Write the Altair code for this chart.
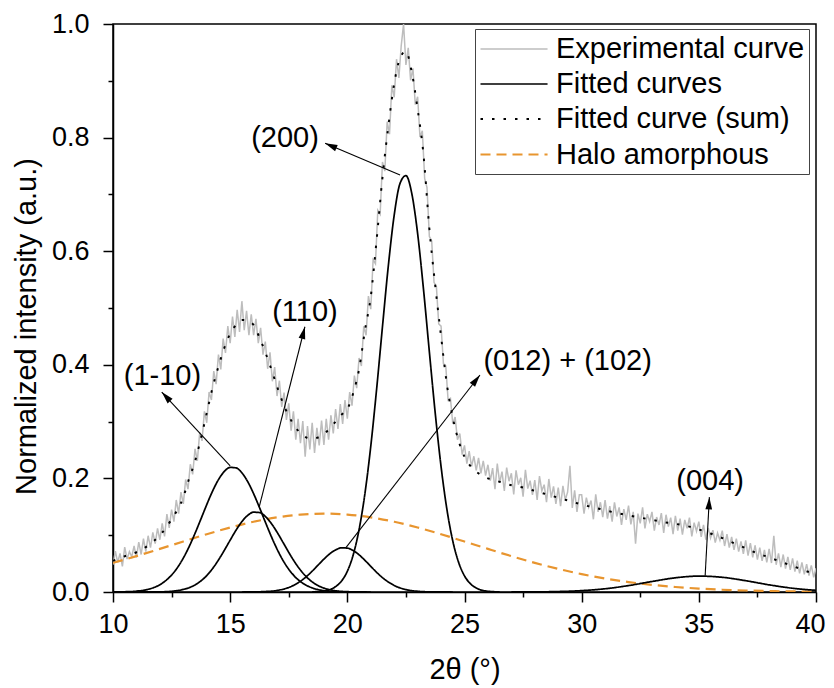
import math
import altair as alt
import pandas as pd

# ---------------- data ----------------
# Experimental curve: 2θ = 10.0 ... 40.0, step 0.1
exp_start = 10.0
exp_step = 0.1
exp_y = [
    0.048, 0.072, 0.052, 0.068, 0.045, 0.079, 0.058, 0.071, 0.062, 0.081,
    0.061, 0.088, 0.066, 0.094, 0.071, 0.099, 0.078, 0.105, 0.085, 0.112,
    0.092, 0.121, 0.098, 0.137, 0.113, 0.145, 0.124, 0.162, 0.138, 0.176,
    0.155, 0.198, 0.181, 0.225, 0.207, 0.252, 0.231, 0.281, 0.266, 0.318,
    0.298, 0.352, 0.338, 0.389, 0.366, 0.418, 0.392, 0.446, 0.421, 0.468,
    0.438, 0.485, 0.449, 0.497, 0.458, 0.512, 0.461, 0.495, 0.452, 0.489,
    0.452, 0.481, 0.438, 0.465, 0.418, 0.441, 0.393, 0.422, 0.371, 0.396,
    0.345, 0.372, 0.326, 0.351, 0.303, 0.332, 0.284, 0.318, 0.268, 0.305,
    0.262, 0.301, 0.238, 0.292, 0.251, 0.298, 0.245, 0.289, 0.258, 0.302,
    0.259, 0.305, 0.268, 0.311, 0.279, 0.322, 0.287, 0.331, 0.296, 0.338,
    0.305, 0.352, 0.328, 0.381, 0.359, 0.412, 0.398, 0.468, 0.452, 0.521,
    0.498, 0.585, 0.578, 0.672, 0.665, 0.757, 0.741, 0.828, 0.806, 0.892,
    0.871, 0.938, 0.905, 0.962, 1.000, 0.928, 0.958, 0.901, 0.922, 0.858,
    0.872, 0.801, 0.812, 0.728, 0.712, 0.626, 0.618, 0.545, 0.538, 0.472,
    0.468, 0.402, 0.398, 0.338, 0.341, 0.296, 0.308, 0.268, 0.279, 0.242,
    0.258, 0.226, 0.248, 0.221, 0.239, 0.214, 0.236, 0.209, 0.231, 0.205,
    0.224, 0.196, 0.218, 0.181, 0.226, 0.192, 0.212, 0.178, 0.219, 0.195,
    0.209, 0.172, 0.214, 0.189, 0.201, 0.168, 0.215, 0.182, 0.196, 0.171,
    0.197, 0.162, 0.204, 0.178, 0.189, 0.158, 0.199, 0.166, 0.186, 0.155,
    0.184, 0.151, 0.187, 0.162, 0.176, 0.222, 0.148, 0.179, 0.141, 0.171,
    0.171, 0.138, 0.166, 0.149, 0.161, 0.128, 0.172, 0.141, 0.158, 0.132,
    0.162, 0.129, 0.151, 0.124, 0.158, 0.133, 0.149, 0.118, 0.146, 0.127,
    0.152, 0.119, 0.141, 0.085, 0.138, 0.121, 0.149, 0.112, 0.137, 0.124,
    0.141, 0.108, 0.132, 0.118, 0.139, 0.104, 0.136, 0.115, 0.131, 0.102,
    0.134, 0.108, 0.129, 0.101, 0.127, 0.112, 0.131, 0.098, 0.122, 0.107,
    0.124, 0.097, 0.118, 0.092, 0.113, 0.095, 0.109, 0.087, 0.104, 0.091,
    0.108, 0.081, 0.102, 0.078, 0.097, 0.074, 0.094, 0.071, 0.089, 0.067,
    0.091, 0.064, 0.086, 0.061, 0.082, 0.057, 0.078, 0.055, 0.074, 0.052,
    0.076, 0.051, 0.099, 0.048, 0.068, 0.044, 0.066, 0.041, 0.062, 0.039,
    0.059, 0.036, 0.055, 0.033, 0.052, 0.031, 0.049, 0.029, 0.047, 0.026,
    0.042,
]
exp_x = [round(exp_start + exp_step * i, 2) for i in range(len(exp_y))]

# Fitted curve (sum), dotted
sum_x = [10.0, 10.5, 11.0, 11.5, 12.0, 12.5, 13.0, 13.25, 13.5, 13.75,
         14.0, 14.25, 14.5, 14.75, 15.0, 15.25, 15.5, 15.75, 16.0, 16.25,
         16.5, 16.75, 17.0, 17.25, 17.5, 17.75, 18.0, 18.25, 18.5, 18.75,
         19.0, 19.25, 19.5, 19.75, 20.0, 20.25, 20.5, 20.75, 21.0, 21.25,
         21.5, 21.75, 22.0, 22.25, 22.5, 22.75, 23.0, 23.25, 23.5, 23.75,
         24.0, 24.25, 24.5, 24.75, 25.0, 25.25, 25.5, 25.75, 26.0, 26.5,
         27.0, 27.5, 28.0, 28.5, 29.0, 29.5, 30.0, 30.5, 31.0, 31.5,
         32.0, 32.5, 33.0, 33.5, 34.0, 34.5, 35.0, 35.5, 36.0, 36.5,
         37.0, 37.5, 38.0, 38.5, 39.0, 39.5, 40.0]
sum_y = [0.055, 0.063, 0.070, 0.082, 0.100, 0.128, 0.167, 0.200, 0.230, 0.270,
         0.315, 0.360, 0.397, 0.430, 0.455, 0.470, 0.479, 0.478, 0.470, 0.448,
         0.422, 0.393, 0.362, 0.333, 0.310, 0.292, 0.280, 0.272, 0.270, 0.272,
         0.278, 0.288, 0.300, 0.312, 0.322, 0.350, 0.392, 0.460, 0.520, 0.620,
         0.730, 0.820, 0.895, 0.940, 0.952, 0.915, 0.850, 0.770, 0.640, 0.540,
         0.450, 0.365, 0.307, 0.266, 0.238, 0.222, 0.212, 0.205, 0.200, 0.194,
         0.188, 0.184, 0.178, 0.172, 0.166, 0.160, 0.154, 0.149, 0.144, 0.139,
         0.135, 0.131, 0.127, 0.123, 0.120, 0.116, 0.110, 0.103, 0.095, 0.086,
         0.077, 0.068, 0.061, 0.053, 0.046, 0.038, 0.031]

# Fitted peaks (solid black)
p110m_x = [10.0, 10.5, 11.0, 11.5, 12.0, 12.25, 12.5, 12.75, 13.0, 13.25, 13.5,
           13.75, 14.0, 14.25, 14.5, 14.75, 15.0, 15.25, 15.5, 15.75, 16.0,
           16.25, 16.5, 16.75, 17.0, 17.25, 17.5, 17.75, 18.0, 18.5, 19.0, 19.5, 20.0]
p110m_y = [0.0001, 0.0004, 0.0015, 0.0048, 0.0128, 0.0200, 0.0298, 0.0430, 0.0597,
           0.0799, 0.1032, 0.1283, 0.1538, 0.1777, 0.1978, 0.2122, 0.2193, 0.2185,
           0.2098, 0.1942, 0.1731, 0.1488, 0.1232, 0.0983, 0.0756, 0.0560, 0.0400,
           0.0275, 0.0183, 0.0072, 0.0024, 0.0007, 0.0002]

p110_x = [11.0, 11.5, 12.0, 12.5, 13.0, 13.25, 13.5, 13.75, 14.0, 14.25, 14.5,
          14.75, 15.0, 15.25, 15.5, 15.75, 16.0, 16.25, 16.5, 16.75, 17.0, 17.25,
          17.5, 17.75, 18.0, 18.25, 18.5, 18.75, 19.0, 19.5, 20.0, 20.5, 21.0]
p110_y = [0.0000, 0.0001, 0.0003, 0.0013, 0.0045, 0.0076, 0.0125, 0.0194, 0.0289,
          0.0413, 0.0563, 0.0733, 0.0913, 0.1088, 0.1239, 0.1349, 0.1405, 0.1399,
          0.1331, 0.1211, 0.1054, 0.0877, 0.0698, 0.0530, 0.0386, 0.0268, 0.0178,
          0.0113, 0.0069, 0.0022, 0.0006, 0.0001, 0.0000]

p012_x = [15.5, 16.0, 16.5, 17.0, 17.5, 17.75, 18.0, 18.25, 18.5, 18.75, 19.0,
          19.25, 19.5, 19.75, 20.0, 20.25, 20.5, 20.75, 21.0, 21.25, 21.5, 21.75,
          22.0, 22.5, 23.0, 23.5, 24.0, 24.5]
p012_y = [0.0000, 0.0002, 0.0008, 0.0027, 0.0080, 0.0126, 0.0190, 0.0271, 0.0367,
          0.0473, 0.0579, 0.0672, 0.0741, 0.0777, 0.0773, 0.0730, 0.0655, 0.0558,
          0.0452, 0.0347, 0.0253, 0.0176, 0.0115, 0.0043, 0.0013, 0.0003, 0.0001,
          0.0000]

p200_x = [18.5, 19.0, 19.5, 19.75, 20.0, 20.25, 20.5, 20.75, 21.0, 21.25, 21.5,
          21.75, 22.0, 22.25, 22.5, 22.75, 23.0, 23.25, 23.5, 23.75, 24.0, 24.25,
          24.5, 24.75, 25.0, 25.25, 25.5, 26.0, 26.5]
p200_y = [0.0003, 0.0019, 0.0095, 0.0192, 0.0365, 0.0653, 0.1097, 0.1730, 0.2566,
          0.3573, 0.4675, 0.5745, 0.6635, 0.7195, 0.7331, 0.7017, 0.6309, 0.5330,
          0.4230, 0.3153, 0.2208, 0.1453, 0.0898, 0.0521, 0.0284, 0.0146, 0.0070,
          0.0013, 0.0002]

p004_x = [27, 28, 29, 30, 31, 32, 33, 34, 35, 36, 37, 38, 39, 40]
p004_y = [0.0001, 0.0002, 0.0008, 0.0024, 0.0057, 0.0113, 0.0185, 0.0250, 0.0280,
          0.0259, 0.0199, 0.0126, 0.0066, 0.0029]

# Halo amorphous (orange dashed)
halo_x = list(range(10, 41))
halo_y = [0.0513, 0.0632, 0.0759, 0.0889, 0.1017, 0.1135, 0.1237, 0.1314, 0.1363,
          0.1380, 0.1363, 0.1314, 0.1237, 0.1135, 0.1017, 0.0889, 0.0759, 0.0632,
          0.0513, 0.0407, 0.0315, 0.0238, 0.0175, 0.0126, 0.0088, 0.0061, 0.0040,
          0.0026, 0.0017, 0.0010, 0.0006]

# Annotations: label text, label centre, arrow base (on curve) and arrow tip
ann_labels = ["(1-10)", "(110)", "(200)", "(012) + (102)", "(004)"]
ann_lx = [12.11, 18.19, 17.34, 29.40, 35.48]
ann_ly = [0.381, 0.493, 0.800, 0.406, 0.196]
arr_bx = [15.00, 16.24, 22.25, 19.94, 35.27]
arr_by = [0.222, 0.150, 0.734, 0.078, 0.029]
arr_tx = [12.08, 18.19, 19.05, 25.66, 35.45]
arr_ty = [0.352, 0.467, 0.790, 0.382, 0.167]

series_order = ["Experimental curve", "Fitted curves", "Fitted curve (sum)", "Halo amorphous"]

# ---------------- build tables ----------------
rows = []
for x, y in zip(exp_x, exp_y):
    rows.append({"x": x, "y": y, "series": series_order[0], "grp": "exp"})
for name, xs, ys in [("p1", p110m_x, p110m_y), ("p2", p110_x, p110_y),
                     ("p3", p012_x, p012_y), ("p4", p200_x, p200_y),
                     ("p5", p004_x, p004_y)]:
    for x, y in zip(xs, ys):
        rows.append({"x": x, "y": y, "series": series_order[1], "grp": name})
for x, y in zip(sum_x, sum_y):
    rows.append({"x": x, "y": y, "series": series_order[2], "grp": "sum"})
for x, y in zip(halo_x, halo_y):
    rows.append({"x": x, "y": y, "series": series_order[3], "grp": "halo"})
df = pd.DataFrame(rows)

W, H = 703, 568
X_MIN, X_MAX, Y_MIN, Y_MAX = 10, 40, 0, 1
px_x = W / (X_MAX - X_MIN)
px_y = H / (Y_MAX - Y_MIN)

arr = pd.DataFrame({"x": arr_bx, "y": arr_by, "x2": arr_tx, "y2": arr_ty})
heads = pd.DataFrame({
    "x": arr_tx, "y": arr_ty,
    "angle": [math.degrees(math.atan2((tx - bx) * px_x, (ty - by) * px_y)) % 360
              for bx, by, tx, ty in zip(arr_bx, arr_by, arr_tx, arr_ty)],
})
labels = pd.DataFrame({"x": ann_lx, "y": ann_ly, "label": ann_labels})

# ---------------- encodings ----------------
FONT = "Liberation Sans"

x_axis = alt.Axis(
    title="2θ (°)",
    values=[10, 12.5, 15, 17.5, 20, 22.5, 25, 27.5, 30, 32.5, 35, 37.5, 40],
    labelExpr="datum.value % 5 === 0 ? datum.label : ''",
    format="d",
    tickSize={"condition": {"test": "datum.value % 5 === 0", "value": 10}, "value": 5},
    labelOffset={"condition": {"test": "datum.value === 40", "value": -6}, "value": 0},
    labelPadding=9, titlePadding=18, labelFlush=False, labelOverlap=False,
)
y_axis = alt.Axis(
    title="Normalized intensity (a.u.)",
    values=[0, 0.1, 0.2, 0.3, 0.4, 0.5, 0.6, 0.7, 0.8, 0.9, 1.0],
    labelExpr="round(datum.value * 10) % 2 === 0 ? format(datum.value, '.1f') : ''",
    tickSize={"condition": {"test": "round(datum.value * 10) % 2 === 0", "value": 10}, "value": 5},
    labelPadding=14, titlePadding=10, labelFlush=False, labelOverlap=False,
    titleY=H / 2 + 18,
)
X = alt.X("x:Q", scale=alt.Scale(domain=[X_MIN, X_MAX], nice=False, zero=False), axis=x_axis)
Y = alt.Y("y:Q", scale=alt.Scale(domain=[Y_MIN, Y_MAX], nice=False), axis=y_axis)

legend = alt.Legend(
    title=None, orient="none", legendX=362, legendY=5, direction="vertical",
    symbolType="M-1,0H3.47", symbolSize=900, labelOffset=44,
    labelFontSize=29, labelFont=FONT, labelColor="black", labelLimit=400,
    strokeColor="#444444", padding=4, rowPadding=4, fillColor="white",
)
color = alt.Color("series:N", legend=legend,
                  scale=alt.Scale(domain=series_order,
                                  range=["#bdbdbd", "#000000", "#000000", "#e8952f"]))
dash = alt.StrokeDash("series:N", legend=legend,
                      scale=alt.Scale(domain=series_order,
                                      range=[[1, 0], [1, 0], [2.5, 9], [10, 6]]))
swidth = alt.StrokeWidth("series:N", legend=legend,
                         scale=alt.Scale(domain=series_order, range=[1.5, 2.2, 2.8, 2.8]))

base = alt.Chart(df)


def series_layer(name, interp):
    return base.transform_filter(alt.datum.series == name).mark_line(
        interpolate=interp, clip=True
    ).encode(x=X, y=Y, color=color, strokeDash=dash, strokeWidth=swidth, detail="grp:N")


exp_layer = series_layer(series_order[0], "linear")
halo_layer = series_layer(series_order[3], "monotone")
fit_layer = series_layer(series_order[1], "monotone")
sum_layer = series_layer(series_order[2], "monotone")

arrow_lines = alt.Chart(arr).mark_rule(color="black", strokeWidth=1.1).encode(
    x=X, y=Y, x2="x2:Q", y2="y2:Q")
arrow_heads = alt.Chart(heads).mark_point(
    shape="M0,0L-0.33,1.2L0.33,1.2Z", filled=True, size=420, color="black",
    opacity=1, strokeWidth=0
).encode(x=X, y=Y, angle=alt.Angle("angle:Q", scale=None))
ann_text = alt.Chart(labels).mark_text(
    font=FONT, fontSize=29, align="center", baseline="middle", color="black"
).encode(x=X, y=Y, text="label:N")

chart = alt.layer(
    exp_layer, halo_layer, fit_layer, sum_layer, arrow_lines, arrow_heads, ann_text
).properties(
    width=W, height=H,
    autosize=alt.AutoSizeParams(type="none"),
    padding={"left": 105, "top": 16, "right": 10, "bottom": 94},
).configure(
    font=FONT,
).configure_view(
    stroke="black", strokeWidth=1.5,
).configure_axis(
    grid=False, domainColor="black", domainWidth=1.5, tickColor="black", tickWidth=1.5,
    labelColor="black", titleColor="black", labelFont=FONT, titleFont=FONT,
    labelFontSize=27, titleFontSize=29, titleFontWeight="normal",
)

chart.save("out.html", embed_options={"renderer": "svg", "actions": False})
